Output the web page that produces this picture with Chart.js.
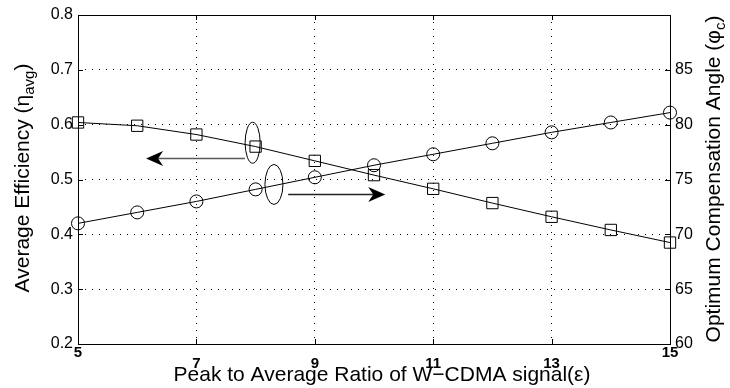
<!DOCTYPE html>
<html>
<head>
<meta charset="utf-8">
<script src="https://cdn.jsdelivr.net/npm/chart.js@4/dist/chart.umd.min.js"></script>
<style>
  html, body { margin: 0; padding: 0; background: #fff; }
  #wrap { width: 730px; height: 388px; position: relative; }
</style>
</head>
<body>
<div id="wrap"><canvas id="c" width="730" height="388"></canvas></div>
<script>
// ---- data ----
const papr = [5, 6, 7, 8, 9, 10, 11, 12, 13, 14, 15];
const avgEfficiency = [0.604, 0.598, 0.582, 0.560, 0.534, 0.508, 0.483, 0.457, 0.432, 0.408, 0.385];
const compAngle = [71.0, 72.0, 73.0, 74.1, 75.2, 76.3, 77.3, 78.3, 79.3, 80.2, 81.1];
const xTicks = [5, 7, 9, 11, 13, 15];
const leftTicks = [0.2, 0.3, 0.4, 0.5, 0.6, 0.7, 0.8];
const rightTicks = [60, 65, 70, 75, 80, 85];

const FONT = "'Liberation Sans', Arial, Helvetica, sans-serif";

// annotation marks (ellipses + arrows) given in data units of x / left axis
const annEllipses = [
  { x: 7.95, y: 0.567, rx: 7.5, ry: 20.5 },
  { x: 8.31, y: 0.491, rx: 9, ry: 20 }
];
const annArrows = [
  { x0: 7.82, x1: 6.15, y: 0.540, color: '#5a5a5a' },
  { x0: 8.55, x1: 10.19, y: 0.473, color: '#222' }
];

const framePlugin = {
  id: 'frame',
  afterDatasetsDraw(chart) {
    const ctx = chart.ctx, a = chart.chartArea;
    const xs = chart.scales.x, yl = chart.scales.yL, yr = chart.scales.yR;
    ctx.save();
    // annotations
    ctx.lineWidth = 1;
    ctx.strokeStyle = '#000';
    annEllipses.forEach(e => {
      ctx.beginPath();
      ctx.ellipse(xs.getPixelForValue(e.x), yl.getPixelForValue(e.y), e.rx, e.ry, 0, 0, Math.PI * 2);
      ctx.stroke();
    });
    annArrows.forEach(ar => {
      const px0 = xs.getPixelForValue(ar.x0), px1 = xs.getPixelForValue(ar.x1);
      const py = Math.round(yl.getPixelForValue(ar.y)) + 0.5;
      const dir = px1 > px0 ? 1 : -1;
      const L = 17, W = 7.5, ind = 5;
      ctx.strokeStyle = ar.color;
      ctx.lineWidth = 1.5;
      ctx.beginPath();
      ctx.moveTo(px0, py);
      ctx.lineTo(px1 - dir * (L - ind), py);
      ctx.stroke();
      ctx.fillStyle = '#000';
      ctx.beginPath();
      ctx.moveTo(px1, py);
      ctx.lineTo(px1 - dir * L, py - W);
      ctx.lineTo(px1 - dir * (L - ind), py);
      ctx.lineTo(px1 - dir * L, py + W);
      ctx.closePath();
      ctx.fill();
    });
    // frame
    ctx.strokeStyle = '#000';
    ctx.lineWidth = 1;
    ctx.strokeRect(Math.round(a.left) + 0.5, Math.round(a.top) + 0.5, Math.round(a.right - a.left), Math.round(a.bottom - a.top));
    // inward ticks
    const T = 5;
    ctx.beginPath();
    xTicks.forEach(v => {
      const p = Math.round(xs.getPixelForValue(v)) + 0.5;
      ctx.moveTo(p, a.bottom); ctx.lineTo(p, a.bottom - T);
      ctx.moveTo(p, a.top); ctx.lineTo(p, a.top + T);
    });
    leftTicks.forEach(v => {
      const p = Math.round(yl.getPixelForValue(v)) + 0.5;
      ctx.moveTo(a.left, p); ctx.lineTo(a.left + T, p);
    });
    rightTicks.forEach(v => {
      const p = Math.round(yr.getPixelForValue(v)) + 0.5;
      ctx.moveTo(a.right, p); ctx.lineTo(a.right - T, p);
    });
    ctx.stroke();
    ctx.restore();
  },
  afterDraw(chart) {
    const ctx = chart.ctx;
    ctx.save();
    ctx.fillStyle = '#000';
    const big = '21px ' + FONT, small = '15px ' + FONT;
    function drawParts(parts, cx, cy, rot) {
      ctx.save();
      ctx.translate(cx, cy);
      ctx.rotate(rot);
      ctx.textBaseline = 'alphabetic';
      ctx.textAlign = 'left';
      let total = 0;
      parts.forEach(p => { ctx.font = p.sub ? small : big; total += ctx.measureText(p.t).width; });
      let x = -total / 2;
      parts.forEach(p => {
        ctx.font = p.sub ? small : big;
        ctx.fillText(p.t, x, p.sub ? 5 : 0);
        x += ctx.measureText(p.t).width;
      });
      ctx.restore();
    }
    drawParts([{ t: 'Average Efficiency (\u03B7' }, { t: 'avg', sub: true }, { t: ')' }], 29, 178, -Math.PI / 2);
    drawParts([{ t: 'Optimum Compensation Angle (\u03C6' }, { t: 'c', sub: true }, { t: ')' }], 720, 179, -Math.PI / 2);
    drawParts([{ t: 'Peak to Average Ratio of W\u2212CDMA signal(\u03B5)' }], 382, 381, 0);
    ctx.restore();
  }
};

const edgeless = (ctx) => {
  const s = ctx.scale;
  const v = ctx.tick && ctx.tick.value;
  return (v === s.min || v === s.max) ? 'rgba(0,0,0,0)' : '#000';
};

new Chart(document.getElementById('c'), {
  type: 'line',
  data: {
    datasets: [
      {
        label: 'Average Efficiency',
        data: papr.map((x, i) => ({ x: x, y: avgEfficiency[i] })),
        yAxisID: 'yL',
        borderColor: '#000',
        borderWidth: 1,
        pointStyle: 'rect',
        pointRadius: 8,
        pointBorderColor: '#000',
        pointBorderWidth: 1,
        pointBackgroundColor: 'rgba(0,0,0,0)',
        tension: 0,
        fill: false,
        clip: false
      },
      {
        label: 'Optimum Compensation Angle',
        data: papr.map((x, i) => ({ x: x, y: compAngle[i] })),
        yAxisID: 'yR',
        borderColor: '#000',
        borderWidth: 1,
        pointStyle: 'circle',
        pointRadius: 6.5,
        pointBorderColor: '#000',
        pointBorderWidth: 1,
        pointBackgroundColor: 'rgba(0,0,0,0)',
        tension: 0,
        fill: false,
        clip: false
      }
    ]
  },
  options: {
    responsive: false,
    animation: false,
    devicePixelRatio: 1,
    layout: { padding: { top: 15, left: 0, right: 0, bottom: 0 } },
    plugins: { legend: { display: false }, tooltip: { enabled: false } },
    scales: {
      x: {
        type: 'linear',
        min: 5, max: 15,
        afterBuildTicks: (s) => { s.ticks = xTicks.map(v => ({ value: v })); },
        afterFit: (s) => { s.height = 44; },
        ticks: {
          color: '#000',
          font: { family: FONT, size: 15, weight: 'bold', lineHeight: '11px' },
          padding: 3, maxRotation: 0, autoSkip: false,
          callback: (v) => (v === 5 || v === 15) ? String(v) : ['', String(v)]
        },
        grid: { color: edgeless, lineWidth: 1, drawTicks: false },
        border: { display: false, dash: [1, 6] }
      },
      yL: {
        type: 'linear',
        position: 'left',
        min: 0.2, max: 0.8,
        afterBuildTicks: (s) => { s.ticks = leftTicks.map(v => ({ value: v })); },
        afterFit: (s) => { s.width = 78; },
        ticks: { color: '#000', font: { family: FONT, size: 16 }, padding: 5, callback: (v) => v.toFixed(1) },
        grid: { color: edgeless, lineWidth: 1, drawTicks: false },
        border: { display: false, dash: [1, 6] }
      },
      yR: {
        type: 'linear',
        position: 'right',
        min: 60, max: 90,
        afterBuildTicks: (s) => { s.ticks = rightTicks.map(v => ({ value: v })); },
        afterFit: (s) => { s.width = 60; },
        ticks: { color: '#000', font: { family: FONT, size: 16 }, padding: 5 },
        grid: { display: false, drawTicks: false },
        border: { display: false }
      }
    }
  },
  plugins: [framePlugin]
});
</script>
</body>
</html>
